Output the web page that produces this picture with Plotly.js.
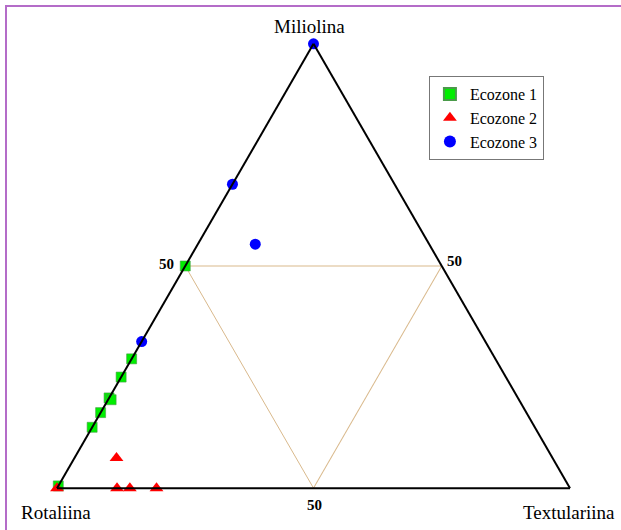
<!DOCTYPE html>
<html>
<head>
<meta charset="utf-8">
<script src="https://cdn.plot.ly/plotly-3.0.1.min.js"></script>
<style>
  html, body { margin: 0; padding: 0; background: #fff; overflow: hidden; }
  #chart { width: 621px; height: 530px; position: absolute; left: 0; top: 0; }
  #frame { position: absolute; left: 5px; top: 5px; width: 800px; height: 800px;
           border-left: 2px solid #b46cc8; border-top: 2px solid #b46cc8; pointer-events: none; }
</style>
</head>
<body>
<div id="chart"></div>
<div id="frame"></div>
<script>
// Ternary components in percent: Miliolina (a), Rotaliina (b), Textulariina (c)
const eco1Mil = [50, 29.1, 25.0, 20.3, 19.9, 17.0, 13.7, 0.5];
const eco1Rot = [50, 70.9, 75.0, 79.7, 79.5, 83.0, 86.3, 99.5];
const eco1Tex = [0, 0, 0, 0, 0.6, 0, 0, 0];

const eco2Mil = [0, 6.8, 0, 0, 0];
const eco2Rot = [100, 85.0, 88.3, 85.8, 80.6];
const eco2Tex = [0, 8.2, 11.7, 14.2, 19.4];

const eco3Mil = [100, 68.4, 54.9, 33.0];
const eco3Rot = [0, 31.6, 33.9, 67.0];
const eco3Tex = [0, 0, 11.2, 0];

const seriesNames = ['Ecozone 1', 'Ecozone 2', 'Ecozone 3'];
const axisTitles = ['Miliolina', 'Rotaliina', 'Textulariina'];
const gridVals = [50];
const gridText = ['50'];

const serif = 'Liberation Serif, Times New Roman, serif';

const traces = [
  { type: 'scatterternary', mode: 'markers', name: seriesNames[0], cliponaxis: false,
    a: eco1Mil, b: eco1Rot, c: eco1Tex,
    marker: { symbol: 'square', size: 10, color: '#00ee00', line: { color: '#4a9a4a', width: 0.6 } } },
  { type: 'scatterternary', mode: 'markers', name: seriesNames[1], cliponaxis: false,
    a: eco2Mil, b: eco2Rot, c: eco2Tex,
    marker: { symbol: 'triangle-up', size: 12, color: '#ff0000', line: { width: 0 } } },
  { type: 'scatterternary', mode: 'markers', name: seriesNames[2], cliponaxis: false,
    a: eco3Mil, b: eco3Rot, c: eco3Tex,
    marker: { symbol: 'circle', size: 11, color: '#0000ff', line: { width: 0 } } }
];

function axis(standoff) {
  return {
    title: { text: '' },
    min: 0,
    tickmode: 'array', tickvals: gridVals, ticktext: gridText,
    ticks: 'outside', ticklen: standoff, tickcolor: 'rgba(0,0,0,0)',
    showticklabels: true,
    tickfont: { family: serif, size: 15, color: '#000', weight: 'bold' },
    showgrid: true, gridcolor: '#d9b98c', gridwidth: 1,
    showline: true, linecolor: '#000', linewidth: 2
  };
}

const titleFont = { family: serif, size: 19, color: '#000' };
const annotations = [
  { text: axisTitles[0], x: 0.493, y: 1.036 },
  { text: axisTitles[1], x: -0.002, y: -0.052 },
  { text: axisTitles[2], x: 0.998, y: -0.052 }
].map(o => Object.assign({ xref: 'paper', yref: 'paper', showarrow: false,
  xanchor: 'center', yanchor: 'middle', font: titleFont }, o));

const layout = {
  width: 621, height: 530,
  margin: { l: 57, r: 51, t: 43, b: 41 },
  paper_bgcolor: '#fff',
  showlegend: true,
  legend: {
    x: 0.725, y: 0.926, xanchor: 'left', yanchor: 'top',
    bgcolor: '#fff', bordercolor: '#777', borderwidth: 1,
    font: { family: serif, size: 16, color: '#000' },
    itemsizing: 'constant'
  },
  annotations: annotations,
  ternary: {
    sum: 100,
    bgcolor: '#fff',
    aaxis: axis(8),
    baxis: axis(2),
    caxis: axis(4)
  }
};

Plotly.newPlot('chart', traces, layout, { displayModeBar: false, staticPlot: true });
</script>
</body>
</html>
